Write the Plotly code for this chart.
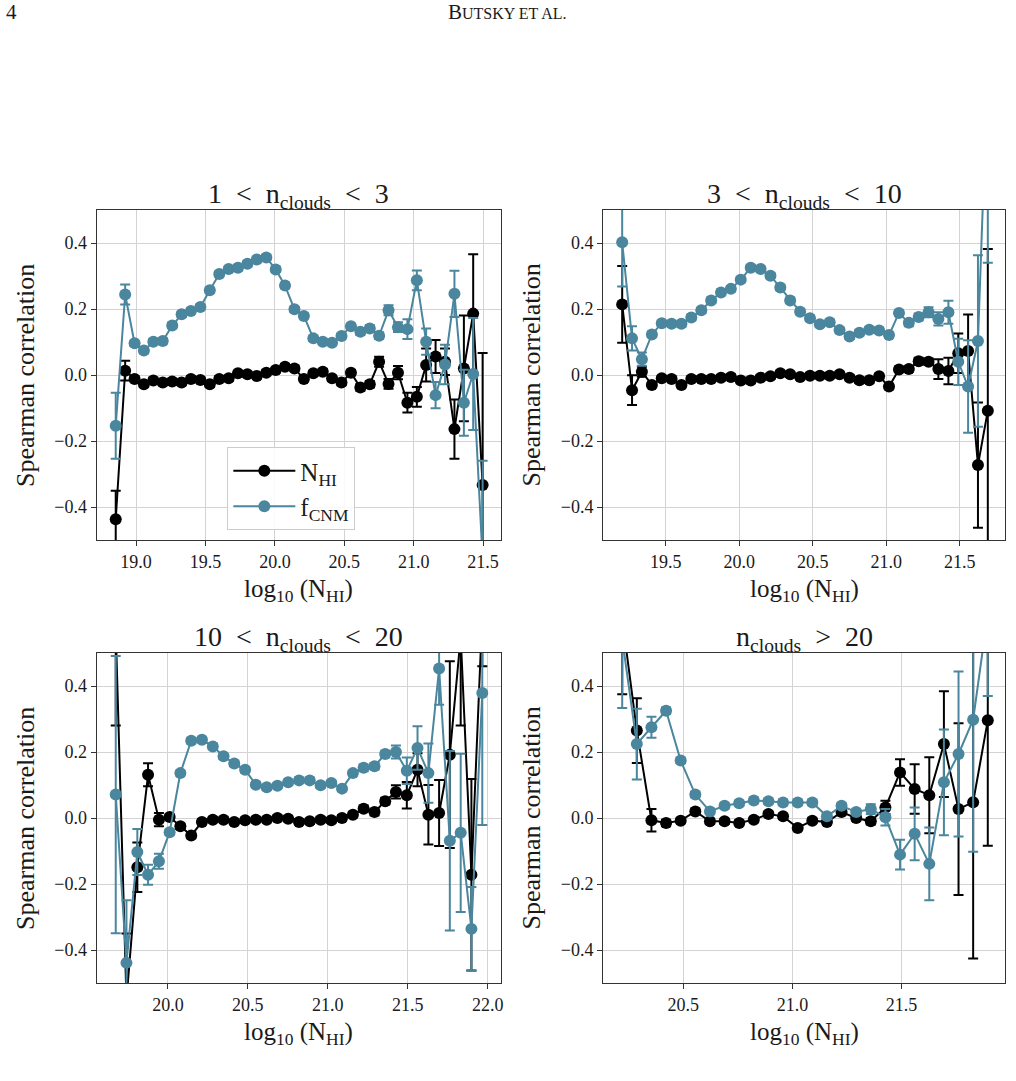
import plotly.graph_objects as go

BLACK = "#000000"
BLUE = "#4a869e"
FONT = "Liberation Serif"
TXT = "#1a1a1a"

# ---------------- data ----------------
# Panel 1: 1 < n_clouds < 3
x1 = [18.853, 18.921, 18.989, 19.056, 19.124, 19.192, 19.260, 19.328, 19.395, 19.463,
      19.531, 19.599, 19.667, 19.734, 19.802, 19.870, 19.938, 20.006, 20.073, 20.141,
      20.209, 20.277, 20.345, 20.412, 20.480, 20.548, 20.616, 20.684, 20.751, 20.819,
      20.887, 20.955, 21.023, 21.090, 21.158, 21.226, 21.294, 21.362, 21.429, 21.497]
nhi1 = [-0.437, 0.013, -0.012, -0.028, -0.017, -0.023, -0.020, -0.023, -0.012, -0.015,
        -0.028, -0.012, -0.010, 0.005, 0.002, -0.003, 0.007, 0.015, 0.025, 0.020,
        -0.012, 0.005, 0.010, -0.010, -0.023, 0.007, -0.038, -0.028, 0.040, -0.027,
        0.007, -0.084, -0.066, 0.030, 0.056, 0.040, -0.164, 0.020, 0.186, -0.333]
nhi1_err = [0.086, 0.030, 0.008, 0.008, 0.008, 0.008, 0.008, 0.008, 0.008, 0.008,
            0.008, 0.008, 0.008, 0.008, 0.008, 0.008, 0.008, 0.008, 0.008, 0.008,
            0.008, 0.008, 0.008, 0.008, 0.008, 0.008, 0.010, 0.010, 0.015, 0.015,
            0.020, 0.030, 0.030, 0.050, 0.050, 0.040, 0.090, 0.160, 0.180, 0.400]
fcnm1 = [-0.154, 0.244, 0.096, 0.074, 0.101, 0.103, 0.150, 0.184, 0.194, 0.206,
         0.257, 0.306, 0.321, 0.325, 0.337, 0.350, 0.356, 0.320, 0.271, 0.199,
         0.179, 0.111, 0.101, 0.098, 0.118, 0.148, 0.131, 0.141, 0.119, 0.196,
         0.145, 0.139, 0.287, 0.101, -0.061, 0.032, 0.246, -0.084, 0.003, -0.560]
fcnm1_err = [0.100, 0.030, 0.008, 0.008, 0.008, 0.008, 0.008, 0.008, 0.008, 0.008,
             0.008, 0.008, 0.008, 0.008, 0.008, 0.008, 0.008, 0.008, 0.008, 0.008,
             0.008, 0.008, 0.008, 0.008, 0.008, 0.008, 0.010, 0.010, 0.010, 0.015,
             0.015, 0.030, 0.030, 0.040, 0.040, 0.060, 0.070, 0.100, 0.170, 0.300]

# Panel 2: 3 < n_clouds < 10
x2 = [19.204, 19.271, 19.338, 19.406, 19.473, 19.540, 19.607, 19.674, 19.742, 19.809,
      19.876, 19.943, 20.010, 20.078, 20.145, 20.212, 20.279, 20.346, 20.414, 20.481,
      20.548, 20.615, 20.682, 20.750, 20.817, 20.884, 20.951, 21.018, 21.086, 21.153,
      21.220, 21.287, 21.354, 21.422, 21.489, 21.556, 21.623, 21.690]
nhi2 = [0.214, -0.046, 0.010, -0.030, -0.010, -0.012, -0.030, -0.012, -0.012, -0.012,
        -0.008, -0.006, -0.017, -0.017, -0.008, -0.004, 0.005, 0.002, -0.006, -0.002,
        -0.002, -0.002, 0.002, -0.008, -0.016, -0.016, -0.004, -0.035, 0.017, 0.018,
        0.042, 0.040, 0.018, 0.012, 0.066, 0.073, -0.273, -0.108]
nhi2_err = [0.116, 0.045, 0.015, 0.008, 0.008, 0.008, 0.008, 0.008, 0.008, 0.008,
            0.008, 0.008, 0.008, 0.008, 0.008, 0.008, 0.008, 0.008, 0.008, 0.008,
            0.008, 0.008, 0.008, 0.008, 0.008, 0.008, 0.008, 0.008, 0.008, 0.008,
            0.010, 0.010, 0.030, 0.040, 0.060, 0.110, 0.190, 0.490]
fcnm2 = [0.402, 0.111, 0.048, 0.123, 0.157, 0.155, 0.155, 0.174, 0.196, 0.226,
         0.250, 0.261, 0.289, 0.325, 0.321, 0.301, 0.265, 0.226, 0.192, 0.172,
         0.154, 0.160, 0.136, 0.117, 0.128, 0.137, 0.135, 0.121, 0.188, 0.158,
         0.176, 0.190, 0.170, 0.190, 0.040, -0.035, 0.103, 0.940]
fcnm2_err = [0.134, 0.037, 0.020, 0.008, 0.008, 0.008, 0.008, 0.008, 0.008, 0.008,
             0.008, 0.008, 0.008, 0.008, 0.008, 0.008, 0.008, 0.008, 0.008, 0.008,
             0.008, 0.008, 0.008, 0.008, 0.008, 0.008, 0.008, 0.008, 0.008, 0.010,
             0.010, 0.015, 0.020, 0.035, 0.070, 0.140, 0.260, 0.600]

# Panel 3: 10 < n_clouds < 20
x3 = [19.674, 19.741, 19.809, 19.876, 19.944, 20.011, 20.078, 20.146, 20.213, 20.281,
      20.348, 20.415, 20.483, 20.550, 20.618, 20.685, 20.752, 20.820, 20.887, 20.955,
      21.022, 21.089, 21.157, 21.224, 21.292, 21.359, 21.426, 21.494, 21.561, 21.629,
      21.696, 21.763, 21.831, 21.898, 21.966]
nhi3 = [0.570, -0.550, -0.149, 0.131, -0.005, 0.003, -0.025, -0.053, -0.012, -0.005,
        -0.005, -0.012, -0.007, -0.005, -0.005, 0.000, -0.002, -0.012, -0.010, -0.005,
        -0.007, 0.000, 0.010, 0.028, 0.018, 0.051, 0.079, 0.069, 0.146, 0.010,
        0.015, 0.192, 0.550, -0.172, 0.620]
nhi3_err = [0.290, 0.200, 0.075, 0.035, 0.020, 0.008, 0.008, 0.008, 0.008, 0.008,
            0.008, 0.008, 0.008, 0.008, 0.008, 0.008, 0.008, 0.008, 0.008, 0.008,
            0.008, 0.008, 0.008, 0.010, 0.010, 0.010, 0.020, 0.040, 0.050, 0.090,
            0.100, 0.283, 0.270, 0.290, 0.160]
fcnm3 = [0.071, -0.439, -0.103, -0.172, -0.131, -0.043, 0.136, 0.234, 0.237, 0.217,
         0.187, 0.165, 0.146, 0.101, 0.093, 0.098, 0.108, 0.114, 0.114, 0.099,
         0.106, 0.089, 0.136, 0.152, 0.157, 0.194, 0.200, 0.143, 0.212, 0.136,
         0.453, -0.069, -0.045, -0.336, 0.379]
fcnm3_err = [0.420, 0.190, 0.070, 0.030, 0.023, 0.008, 0.008, 0.008, 0.008, 0.008,
             0.008, 0.008, 0.008, 0.008, 0.008, 0.008, 0.008, 0.008, 0.008, 0.008,
             0.008, 0.008, 0.008, 0.010, 0.010, 0.010, 0.020, 0.040, 0.066, 0.090,
             0.110, 0.272, 0.240, 0.127, 0.400]

# Panel 4: n_clouds > 20
x4 = [20.220, 20.287, 20.354, 20.421, 20.488, 20.555, 20.622, 20.689, 20.756, 20.823,
      20.890, 20.957, 21.024, 21.091, 21.158, 21.225, 21.292, 21.359, 21.426, 21.493,
      21.560, 21.627, 21.694, 21.761, 21.828, 21.895]
nhi4 = [0.605, 0.265, -0.007, -0.015, -0.008, 0.020, -0.010, -0.010, -0.015, -0.005,
        0.012, 0.005, -0.030, -0.008, -0.012, 0.018, 0.000, -0.010, 0.032, 0.138,
        0.088, 0.069, 0.224, 0.027, 0.048, 0.296]
nhi4_err = [0.230, 0.098, 0.034, 0.010, 0.008, 0.008, 0.008, 0.008, 0.008, 0.008,
            0.008, 0.008, 0.008, 0.008, 0.008, 0.008, 0.008, 0.010, 0.020, 0.040,
            0.075, 0.115, 0.160, 0.260, 0.474, 0.380]
fcnm4 = [0.543, 0.224, 0.275, 0.325, 0.174, 0.071, 0.020, 0.037, 0.045, 0.053,
         0.051, 0.047, 0.047, 0.047, 0.005, 0.037, 0.018, 0.027, 0.002, -0.111,
         -0.048, -0.139, 0.108, 0.194, 0.298, 0.620]
fcnm4_err = [0.210, 0.107, 0.032, 0.010, 0.008, 0.008, 0.008, 0.008, 0.008, 0.008,
             0.008, 0.008, 0.008, 0.008, 0.008, 0.008, 0.008, 0.015, 0.025, 0.045,
             0.080, 0.110, 0.160, 0.250, 0.400, 0.250]

titles = ["1 &nbsp;&lt;&nbsp; n<sub>clouds</sub> &nbsp;&lt;&nbsp; 3",
          "3 &nbsp;&lt;&nbsp; n<sub>clouds</sub> &nbsp;&lt;&nbsp; 10",
          "10 &nbsp;&lt;&nbsp; n<sub>clouds</sub> &nbsp;&lt;&nbsp; 20",
          "n<sub>clouds</sub> &nbsp;&gt;&nbsp; 20"]
xlims = [[18.716, 21.626], [19.075, 21.807], [19.555, 22.080], [20.133, 21.974]]
xticks = [[19.0, 19.5, 20.0, 20.5, 21.0, 21.5],
          [19.5, 20.0, 20.5, 21.0, 21.5],
          [20.0, 20.5, 21.0, 21.5, 22.0],
          [20.5, 21.0, 21.5]]
yticks = [-0.4, -0.2, 0.0, 0.2, 0.4]
yticklabels = ["\u22120.4", "\u22120.2", "0.0", "0.2", "0.4"]

panels = [(x1, nhi1, nhi1_err, fcnm1, fcnm1_err),
          (x2, nhi2, nhi2_err, fcnm2, fcnm2_err),
          (x3, nhi3, nhi3_err, fcnm3, fcnm3_err),
          (x4, nhi4, nhi4_err, fcnm4, fcnm4_err)]

# ---------------- layout geometry (pixels) ----------------
W, H = 1016, 1081
boxes = [(97, 502, 210, 540), (605, 1008, 210, 540),
         (97, 502, 653, 983), (605, 1008, 653, 983)]

fig = go.Figure()
layout = dict(
    width=W, height=H, margin=dict(l=0, r=0, t=0, b=0),
    paper_bgcolor="white", plot_bgcolor="white",
    font=dict(family=FONT, color=TXT, size=18),
    showlegend=True,
    legend=dict(x=228 / W, y=1 - 447 / H, xanchor="left", yanchor="top",
                bgcolor="rgba(255,255,255,0.85)", bordercolor="#cccccc", borderwidth=1,
                font=dict(family=FONT, size=25, color=TXT), itemwidth=62,
                tracegroupgap=0),
)
annotations = []

for i, (xs, a, ae, b, be) in enumerate(panels):
    k = "" if i == 0 else str(i + 1)
    x0, x1p, y0, y1p = boxes[i]
    common = dict(showgrid=True, gridcolor="#d3d3d3", gridwidth=1, zeroline=False,
                  showline=True, linecolor="#333333", linewidth=1.3, mirror=True,
                  ticks="outside", ticklen=5, tickwidth=1.2, tickcolor="#333333",
                  tickfont=dict(family=FONT, size=18, color=TXT))
    layout["xaxis" + k] = dict(domain=[x0 / W, x1p / W], anchor="y" + k,
                               range=xlims[i], tickvals=xticks[i], tickformat=".1f", **common)
    layout["yaxis" + k] = dict(domain=[1 - y1p / H, 1 - y0 / H], anchor="x" + k,
                               range=[-0.5, 0.5], tickvals=yticks, ticktext=yticklabels, **common)
    fig.add_trace(go.Scatter(
        x=xs, y=a, mode="lines+markers", name="N<sub>HI</sub>",
        xaxis="x" + k, yaxis="y" + k, showlegend=(i == 0),
        line=dict(color=BLACK, width=2), marker=dict(color=BLACK, size=12),
        error_y=dict(type="data", array=ae, visible=True, color=BLACK, thickness=2, width=5)))
    fig.add_trace(go.Scatter(
        x=xs, y=b, mode="lines+markers", name="f<sub>CNM</sub>",
        xaxis="x" + k, yaxis="y" + k, showlegend=(i == 0),
        line=dict(color=BLUE, width=2), marker=dict(color=BLUE, size=12),
        error_y=dict(type="data", array=be, visible=True, color=BLUE, thickness=2, width=5)))

    cx = (x0 + x1p) / 2
    annotations.append(dict(text=titles[i], x=cx / W, y=1 - (y0 - 15) / H, xref="paper", yref="paper",
                            xanchor="center", yanchor="middle", showarrow=False,
                            font=dict(family=FONT, size=28, color=TXT)))
    annotations.append(dict(text="log<sub>10</sub> (N<sub>HI</sub>)", x=cx / W, y=1 - (y1p + 50) / H,
                            xref="paper", yref="paper", xanchor="center", yanchor="middle",
                            showarrow=False, font=dict(family=FONT, size=25, color=TXT)))
    annotations.append(dict(text="Spearman correlation", x=(x0 - 72) / W, y=1 - ((y0 + y1p) / 2) / H,
                            xref="paper", yref="paper", xanchor="center", yanchor="middle",
                            textangle=-90, showarrow=False, font=dict(family=FONT, size=26, color=TXT)))

# page header
annotations.append(dict(text="4", x=4 / W, y=1 - 12 / H, xref="paper", yref="paper",
                        xanchor="left", yanchor="middle", showarrow=False,
                        font=dict(family=FONT, size=21, color=TXT)))
annotations.append(dict(text="B<span style='font-size:16px'>UTSKY ET AL.</span>", x=508 / W, y=1 - 12 / H,
                        xref="paper", yref="paper", xanchor="center", yanchor="middle", showarrow=False,
                        font=dict(family=FONT, size=21, color=TXT)))

layout["annotations"] = annotations
fig.update_layout(**layout)
fig.write_html("out.html")
